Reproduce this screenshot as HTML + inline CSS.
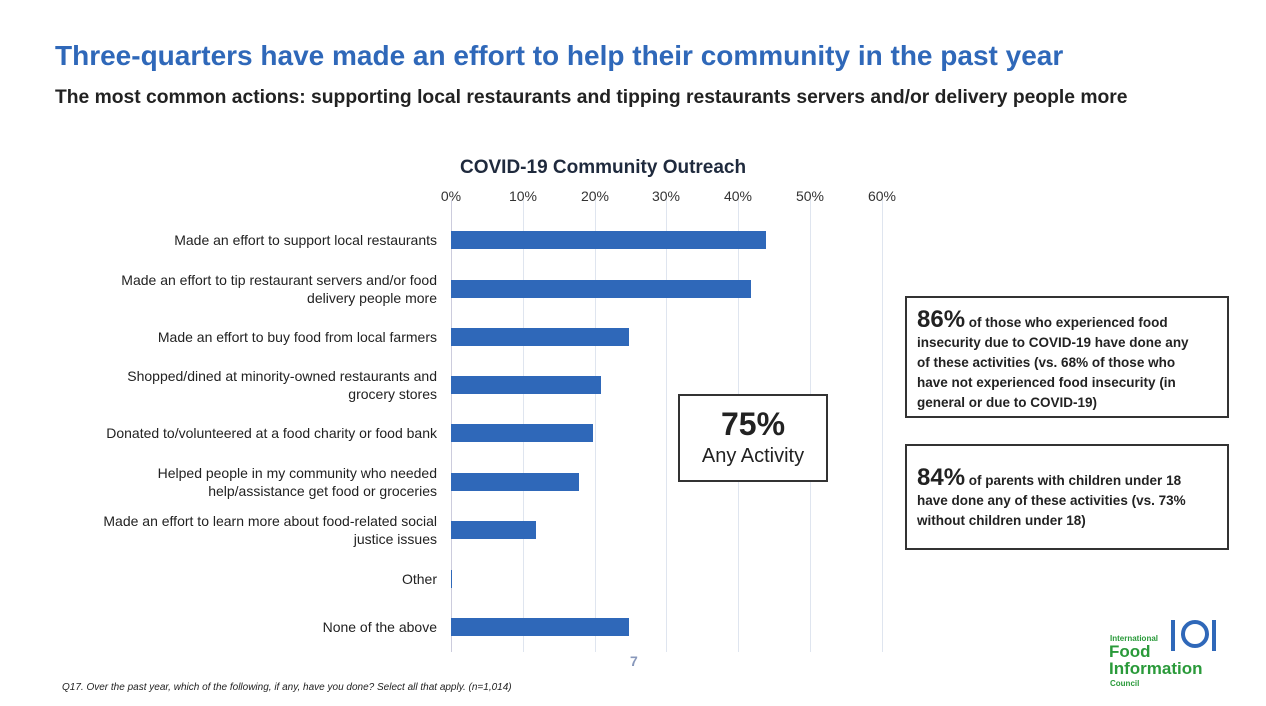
<!DOCTYPE html>
<html><head><style>
body{margin:0;width:1266px;height:706px;background:#fff;font-family:"Liberation Sans",sans-serif;position:relative;overflow:hidden}
.a{position:absolute}
.lbl{position:absolute;right:829px;text-align:right;font-size:14px;color:#222;line-height:18px;width:400px}
.bar{position:absolute;left:451px;height:18px;background:#2f68b9}
.g{position:absolute;top:200px;height:452px;width:1px;background:#dfe5ef}
.t{position:absolute;top:188px;font-size:14px;color:#333;width:60px;text-align:center}
.box{position:absolute;border:2.5px solid #333;background:#fff;font-size:13.5px;color:#222;line-height:20px;font-weight:bold}
</style></head><body>
<div class="a" style="left:55px;top:40px;font-size:28px;font-weight:bold;color:#2f68b9;letter-spacing:0px">Three-quarters have made an effort to help their community in the past year</div>
<div class="a" style="left:55px;top:87px;font-size:19.3px;font-weight:bold;color:#222">The most common actions: supporting local restaurants and tipping restaurants servers and/or delivery people more</div>
<div class="a" style="left:460px;top:157px;font-size:19px;font-weight:bold;color:#1f2a3d">COVID-19 Community Outreach</div>
<div class="t" style="left:421px">0%</div><div class="t" style="left:493px">10%</div><div class="t" style="left:565px">20%</div><div class="t" style="left:636px">30%</div><div class="t" style="left:708px">40%</div><div class="t" style="left:780px">50%</div><div class="t" style="left:852px">60%</div>
<div class="g" style="left:451px;background:#ccd"></div><div class="g" style="left:523px"></div><div class="g" style="left:595px"></div><div class="g" style="left:666px"></div><div class="g" style="left:738px"></div><div class="g" style="left:810px"></div><div class="g" style="left:882px"></div>
<div class="bar" style="top:231px;width:315px"></div>
<div class="bar" style="top:280px;width:300px"></div>
<div class="bar" style="top:328px;width:178px"></div>
<div class="bar" style="top:376px;width:150px"></div>
<div class="bar" style="top:424px;width:142px"></div>
<div class="bar" style="top:473px;width:128px"></div>
<div class="bar" style="top:521px;width:85px"></div>
<div class="bar" style="top:570px;width:1px"></div>
<div class="bar" style="top:618px;width:178px"></div>
<div class="lbl" style="top:231px">Made an effort to support local restaurants</div>
<div class="lbl" style="top:271px">Made an effort to tip restaurant servers and/or food<br>delivery people more</div>
<div class="lbl" style="top:328px">Made an effort to buy food from local farmers</div>
<div class="lbl" style="top:367px">Shopped/dined at minority-owned restaurants and<br>grocery stores</div>
<div class="lbl" style="top:424px">Donated to/volunteered at a food charity or food bank</div>
<div class="lbl" style="top:464px">Helped people in my community who needed<br>help/assistance get food or groceries</div>
<div class="lbl" style="top:512px">Made an effort to learn more about food-related social<br>justice issues</div>
<div class="lbl" style="top:570px">Other</div>
<div class="lbl" style="top:618px">None of the above</div>
<div class="box" style="left:678px;top:394px;width:146px;height:84px;text-align:center;font-weight:normal">
<div style="font-size:32px;font-weight:bold;margin-top:10px;line-height:36px">75%</div><div style="font-size:20px;line-height:28px">Any Activity</div></div>
<div class="box" style="left:905px;top:296px;width:324px;height:122px;padding-left:10px;box-sizing:border-box;padding-top:12px;padding-right:22px"><span style="font-size:24px">86%</span> of those who experienced food insecurity due to COVID-19 have done any of these activities (vs. 68% of those who have not experienced food insecurity (in general or due to COVID-19)</div>
<div class="box" style="left:905px;top:444px;width:324px;height:106px;padding-left:10px;box-sizing:border-box;padding-top:22px;padding-right:14px"><span style="font-size:24px">84%</span> of parents with children under 18 have done any of these activities (vs. 73% without children under 18)</div>
<div class="a" style="left:630px;top:653px;font-size:14px;color:#8898bb;font-weight:bold">7</div>
<div class="a" style="left:62px;top:682px;font-size:10px;font-style:italic;color:#222">Q17. Over the past year, which of the following, if any, have you done? Select all that apply. (n=1,014)</div>
<div class="a" style="left:1110px;top:634px;font-size:8px;font-weight:bold;color:#2a9a3a">International</div>
<div class="a" style="left:1109px;top:643px;font-size:17px;font-weight:900;color:#2a9a3a;line-height:17px">Food<br>Information</div>
<div class="a" style="left:1110px;top:679px;font-size:8px;font-weight:bold;color:#2a9a3a">Council</div>
<svg class="a" style="left:1168px;top:617px" width="52" height="40"><g stroke="#2f68b9" stroke-width="4" fill="none"><line x1="5" y1="3" x2="5" y2="34"/><circle cx="27" cy="17" r="12"/><line x1="46" y1="3" x2="46" y2="34"/></g></svg>
</body></html>
